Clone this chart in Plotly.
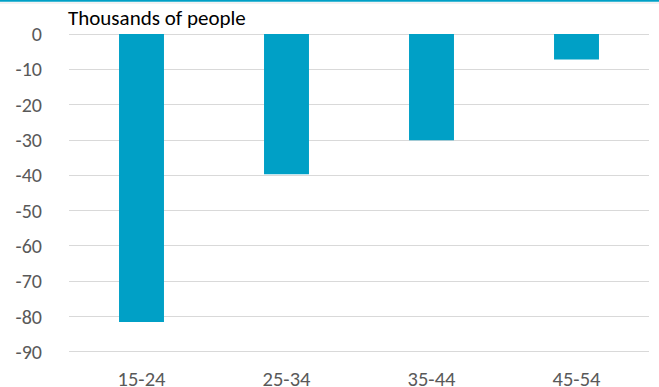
import plotly.graph_objects as go

categories = ["15-24", "25-34", "35-44", "45-54"]
values = [-81.5, -39.7, -30.1, -7.2]
y_ticks = [0, -10, -20, -30, -40, -50, -60, -70, -80, -90]

W, H = 659, 387
ml, mr, mt, mb = 69, 10, 33, 34
pw, ph = W - ml - mr, H - mt - mb
FONT = "Carlito, Calibri, Lato, Open Sans"

def px_y(y):
    return (H - mb - y) / ph

fig = go.Figure(go.Bar(x=categories, y=values, marker=dict(color="#00A0C6", line=dict(width=0)), width=0.31))

fig.update_layout(
    width=W, height=H,
    margin=dict(l=ml, r=mr, t=mt, b=mb, autoexpand=False),
    plot_bgcolor="white", paper_bgcolor="white",
    showlegend=False,
    font=dict(family=FONT, color="#595959", size=20),
    xaxis=dict(showgrid=False, showline=False, automargin=False,
               ticks="outside", ticklen=7, tickcolor="rgba(0,0,0,0)",
               tickfont=dict(size=20.5, color="#595959")),
    yaxis=dict(range=[-90.3, 0.3], tickvals=y_ticks, ticktext=[str(v) for v in y_ticks],
               showgrid=True, gridcolor="#D9D9D9", gridwidth=1.3, zeroline=False, automargin=False,
               ticks="outside", ticklen=22, tickcolor="rgba(0,0,0,0)",
               tickfont=dict(size=20, color="#595959")),
    bargap=0.69,
)
fig.add_annotation(text="Thousands of people", xref="paper", yref="paper", x=0, y=px_y(18),
                   xanchor="left", yanchor="middle", showarrow=False,
                   font=dict(family=FONT, size=21, color="#000000"), xshift=-3)
fig.add_shape(type="line", xref="paper", yref="paper", x0=-ml / pw, x1=(W - ml) / pw,
              y0=px_y(0.8), y1=px_y(0.8), line=dict(color="#00A0C6", width=2))
fig.add_shape(type="line", xref="paper", yref="paper", x0=-ml / pw, x1=(W - ml) / pw,
              y0=px_y(3), y1=px_y(3), line=dict(color="#E6E6E6", width=1))
fig.write_html("out.html")
